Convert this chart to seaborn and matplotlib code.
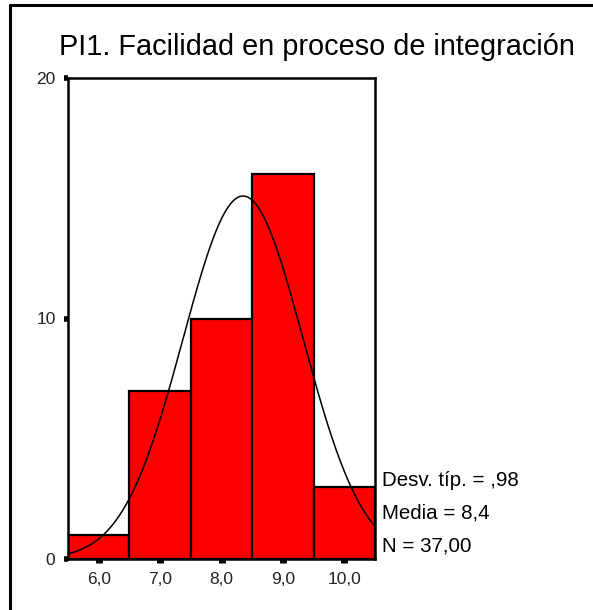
import numpy as np
import pandas as pd
import matplotlib.pyplot as plt
from matplotlib.lines import Line2D
import seaborn as sns

# Counts per score
scores = [6, 7, 8, 9, 10]
counts = [1, 7, 10, 16, 3]
x_tick_labels = ["6,0", "7,0", "8,0", "9,0", "10,0"]
y_ticks = [0, 10, 20]
title = "PI1. Facilidad en proceso de integración"
stats_lines = ["Desv. típ. = ,98", "Media = 8,4", "N = 37,00"]

sns.set_style("white")
plt.rcParams["font.family"] = ["Liberation Sans", "DejaVu Sans"]
plt.rcParams["text.color"] = "black"

values = pd.DataFrame({"score": np.repeat(scores, counts)})
n = len(values)
mean = values["score"].mean()
sd = values["score"].std()

fig = plt.figure(figsize=(5.93, 6.10), dpi=100)
ax = fig.add_axes([68 / 593, 51 / 610, 307 / 593, 481 / 610])

sns.histplot(data=values, x="score", discrete=True, shrink=1, ax=ax,
             color="#ff0000", alpha=1, edgecolor="black", linewidth=1.6)

# normal curve scaled to counts (bin width 1)
xs = np.linspace(5.5, 10.5, 300)
ys = n / (sd * np.sqrt(2 * np.pi)) * np.exp(-0.5 * ((xs - mean) / sd) ** 2)
sns.lineplot(x=xs, y=ys, ax=ax, color="black", linewidth=1.1)

ax.set_xlim(5.5, 10.5)
ax.set_ylim(0, 20)
ax.set_xticks(scores)
ax.set_xticklabels(x_tick_labels)
ax.set_yticks(y_ticks)
ax.set_xlabel("")
ax.set_ylabel("")
ax.tick_params(axis="x", bottom=True, direction="out", length=3, width=5,
               color="black", labelcolor="#222222", labelsize=12.5, pad=6.5)
ax.tick_params(axis="y", left=True, direction="out", length=3, width=4,
               color="black", labelcolor="#222222", labelsize=12.5, pad=6)
for sp in ax.spines.values():
    sp.set_visible(True)
    sp.set_color("black")
    sp.set_linewidth(1.8)

fig.text(317 / 593, 1 - 55 / 610, title, ha="center", va="baseline",
         fontsize=20.8, color="black")

for i, line in enumerate(stats_lines):
    fig.text(382 / 593, 1 - (486 + 32.5 * i) / 610, line, ha="left",
             va="baseline", fontsize=14.8, color="black")

# outer frame (only top and left edges visible)
fig.add_artist(Line2D([10 / 593, 1], [1 - 5 / 610, 1 - 5 / 610],
                      transform=fig.transFigure, color="black", linewidth=2.2))
fig.add_artist(Line2D([10 / 593, 10 / 593], [0, 1 - 5 / 610],
                      transform=fig.transFigure, color="black", linewidth=2.2))

fig.savefig("out.png", dpi=100)
